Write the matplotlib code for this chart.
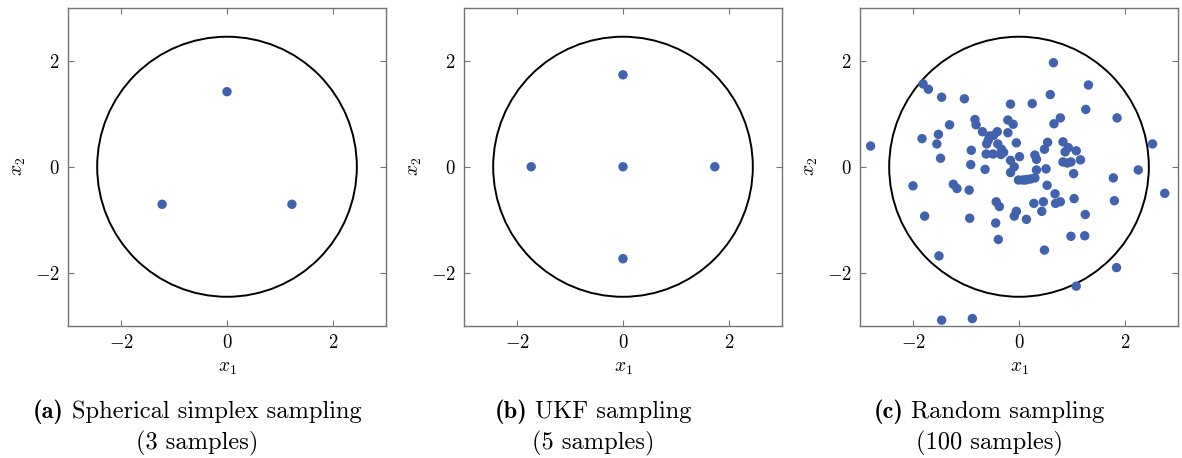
import numpy as np
import matplotlib
matplotlib.use("Agg")
import matplotlib.pyplot as plt
from matplotlib.patches import Circle
from matplotlib.offsetbox import TextArea, HPacker, AnnotationBbox

plt.rcParams["mathtext.fontset"] = "cm"
plt.rcParams["font.family"] = ["cmr10", "DejaVu Serif"]
plt.rcParams["axes.formatter.use_mathtext"] = True

# Sigma-point sets in 2-D
simplex_x = [0.0, -1.2247, 1.2247]
simplex_y = [1.4142, -0.7071, -0.7071]

ukf_x = [0.0, 1.7321, -1.7321, 0.0, 0.0]
ukf_y = [0.0, 0.0, 0.0, 1.7321, -1.7321]

random_x = [
    0.65, 1.31, -1.81, -1.71, -1.46, -1.03, 0.59, 0.25, -0.16, 1.26,
    1.85, -0.83, -0.81, -0.21, -0.11, 0.78, 0.66, -1.31, -1.52, -1.83,
    -1.55, -2.80, -0.69, -0.41, -0.48, -0.58, -0.61, -0.21, -0.40, -0.33,
    -0.05, -0.90, -1.48, -0.62, -0.49, -0.34, -0.91, -0.64, -0.16, -0.09,
    -0.16, 0.01, 0.30, 0.33, 0.48, 0.54, 0.51, 0.33, -0.01, 0.07,
    0.15, 0.22, 0.30, 0.83, 0.93, 0.87, 1.08, 0.83, 0.91, 0.98,
    1.16, 1.03, 2.52, 2.25, 1.78, 2.75, 1.80, -2.00, -1.24, -1.17,
    -0.94, 0.53, 0.68, 1.04, -0.43, -0.37, 0.28, 0.46, 0.69, 0.78,
    -0.05, -0.09, 0.43, 0.14, 1.25, -1.78, -0.93, -0.44, 0.98, 1.24,
    -0.39, 0.48, -1.51, 1.84, 1.08, -1.46, -0.88, -0.29, -0.56, 0.12,
]
random_y = [
    1.96, 1.54, 1.56, 1.46, 1.31, 1.28, 1.36, 1.19, 1.18, 1.08,
    0.92, 0.89, 0.79, 0.88, 0.80, 0.92, 0.81, 0.79, 0.61, 0.53,
    0.43, 0.39, 0.66, 0.66, 0.59, 0.50, 0.43, 0.64, 0.43, 0.33,
    0.45, 0.31, 0.16, 0.24, 0.24, 0.23, 0.04, -0.05, 0.12, 0.00,
    -0.11, 0.19, 0.22, 0.14, 0.33, 0.46, -0.04, -0.06, -0.25, -0.25,
    -0.24, -0.23, -0.21, 0.47, 0.36, 0.28, 0.30, 0.09, 0.07, 0.09,
    0.13, -0.13, 0.43, -0.06, -0.21, -0.50, -0.64, -0.36, -0.33, -0.41,
    -0.44, -0.35, -0.51, -0.60, -0.66, -0.75, -0.69, -0.66, -0.69, -0.66,
    -0.84, -0.93, -0.84, -0.99, -0.90, -0.93, -0.97, -1.06, -1.31, -1.30,
    -1.37, -1.57, -1.68, -1.90, -2.25, -2.89, -2.86, 0.27, 0.58, -0.25,
]

panels = [
    (simplex_x, simplex_y, "(a)", "Spherical simplex sampling", "(3 samples)"),
    (ukf_x, ukf_y, "(b)", "UKF sampling", "(5 samples)"),
    (random_x, random_y, "(c)", "Random sampling", "(100 samples)"),
]

radius = np.sqrt(6.0)
point_color = "#4163ad"
spine_color = "#737373"
ticks = [-2, 0, 2]
cap_size = 17.6

W, H = 1182, 458
fig = plt.figure(figsize=(W / 100, H / 100), dpi=100)

lefts = [68, 464, 860]
ax_w = 318
ax_top, ax_bot = 7.5, 326

for left, (xs, ys, tag, line1, line2) in zip(lefts, panels):
    ax = fig.add_axes([left / W, 1 - ax_bot / H, ax_w / W, (ax_bot - ax_top) / H])
    ax.add_patch(Circle((0, 0), radius, fill=False, ec="black", lw=1.4, zorder=2))
    ax.scatter(xs, ys, s=46, color=point_color, edgecolors="none", zorder=3)
    ax.set_xlim(-3, 3)
    ax.set_ylim(-3, 3)
    ax.set_xticks(ticks)
    ax.set_yticks(ticks)
    ax.tick_params(direction="in", length=4, width=0.8, color=spine_color,
                   top=True, right=True, labelsize=13.5, pad=6)
    for sp in ax.spines.values():
        sp.set_color(spine_color)
        sp.set_linewidth(1.0)
    ax.set_xlabel(r"$x_1$", fontsize=14, labelpad=5)
    ax.set_ylabel(r"$x_2$", fontsize=14, labelpad=5)

    # Sub-caption centred under the whole panel (tick labels included)
    cx = (left + ax_w / 2 - 30) / W
    tag_box = TextArea(tag, textprops=dict(family="cmb10", size=cap_size))
    title_box = TextArea(line1, textprops=dict(family="cmr10", size=cap_size))
    row = HPacker(children=[tag_box, title_box], pad=0, sep=6, align="baseline")
    fig.add_artist(AnnotationBbox(row, (cx, 1 - 412 / H), xycoords="figure fraction",
                                  frameon=False, box_alignment=(0.5, 0.5), pad=0))
    fig.text(cx, 1 - 443 / H, line2, ha="center", va="center", fontsize=cap_size)

fig.savefig("out.png", dpi=100)
